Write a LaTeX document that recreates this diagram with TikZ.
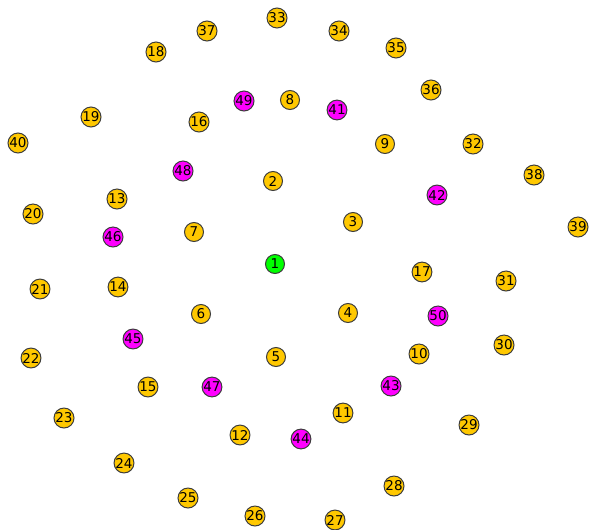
\documentclass[tikz,border=0pt]{standalone}
\usepackage{fontspec}
\setmainfont{DejaVu Sans}
\definecolor{ygold}{RGB}{255,200,0}
\definecolor{vmag}{RGB}{255,0,255}
\definecolor{vgreen}{RGB}{0,255,0}
\definecolor{rim}{RGB}{60,60,60}
\tikzset{
  vtx/.style={circle,draw=rim,line width=1pt,minimum size=19pt,inner sep=0pt,font=\fontsize{13.5}{13.5}\selectfont,text=black},
  yv/.style={vtx,fill=ygold},
  mv/.style={vtx,fill=vmag},
  gv/.style={vtx,fill=vgreen}
}
\begin{document}
\begin{tikzpicture}[x=1pt,y=-1pt]
\useasboundingbox (0,0) rectangle (589,530);
\node[gv] (n1) at (275,264) {1};
\node[yv] (n2) at (273,181) {2};
\node[yv] (n3) at (353,222) {3};
\node[yv] (n4) at (348,313) {4};
\node[yv] (n5) at (276,357) {5};
\node[yv] (n6) at (201,314) {6};
\node[yv] (n7) at (194,232) {7};
\node[yv] (n8) at (290,100) {8};
\node[yv] (n9) at (385,144) {9};
\node[yv] (n10) at (419,354) {10};
\node[yv] (n11) at (343,413) {11};
\node[yv] (n12) at (240,435) {12};
\node[yv] (n13) at (117,199) {13};
\node[yv] (n14) at (118,287) {14};
\node[yv] (n15) at (148,387) {15};
\node[yv] (n16) at (199,122) {16};
\node[yv] (n17) at (422,272) {17};
\node[yv] (n18) at (156,52) {18};
\node[yv] (n19) at (91,117) {19};
\node[yv] (n20) at (33,214) {20};
\node[yv] (n21) at (40,289) {21};
\node[yv] (n22) at (31,358) {22};
\node[yv] (n23) at (64,418) {23};
\node[yv] (n24) at (124,463) {24};
\node[yv] (n25) at (188,498) {25};
\node[yv] (n26) at (255,516) {26};
\node[yv] (n27) at (335,520) {27};
\node[yv] (n28) at (394,486) {28};
\node[yv] (n29) at (469,425) {29};
\node[yv] (n30) at (504,345) {30};
\node[yv] (n31) at (506,281) {31};
\node[yv] (n32) at (473,144) {32};
\node[yv] (n33) at (277,18) {33};
\node[yv] (n34) at (339,31) {34};
\node[yv] (n35) at (396,48) {35};
\node[yv] (n36) at (431,90) {36};
\node[yv] (n37) at (207,31) {37};
\node[yv] (n38) at (534,175) {38};
\node[yv] (n39) at (578,227) {39};
\node[yv] (n40) at (18,143) {40};
\node[mv] (n41) at (337,110) {41};
\node[mv] (n42) at (437,195) {42};
\node[mv] (n43) at (391,386) {43};
\node[mv] (n44) at (301,439) {44};
\node[mv] (n45) at (133,339) {45};
\node[mv] (n46) at (113,237) {46};
\node[mv] (n47) at (212,387) {47};
\node[mv] (n48) at (183,171) {48};
\node[mv] (n49) at (244,101) {49};
\node[mv] (n50) at (438,316) {50};
\end{tikzpicture}
\end{document}
